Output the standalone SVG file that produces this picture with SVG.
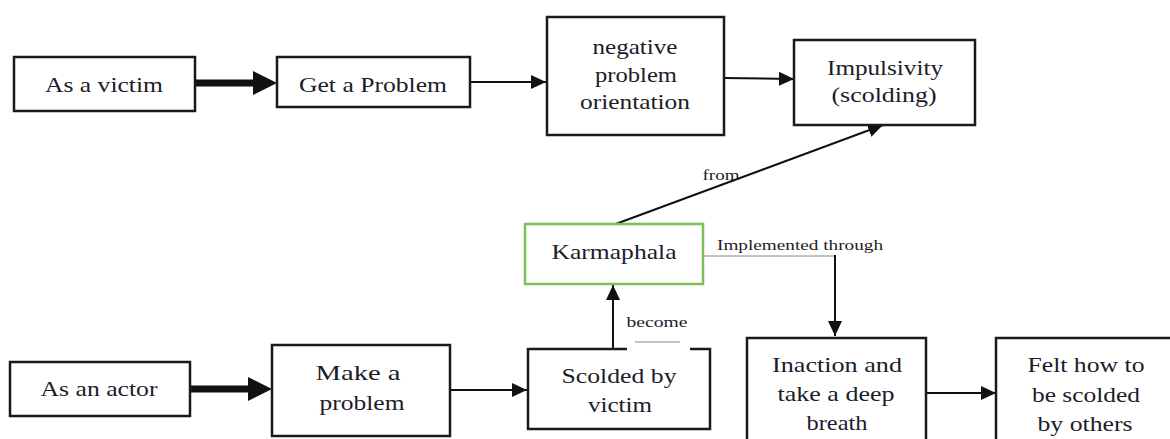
<svg xmlns="http://www.w3.org/2000/svg" width="1170" height="439" viewBox="0 0 1170 439" font-family="Liberation Serif, DejaVu Serif, serif">
<style>
.box{fill:#fff;stroke:#1a1a1a;stroke-width:2.5}
.kbox{fill:#fff;stroke:#7cbf55;stroke-width:2.5}
.t{font-size:22px;fill:#1c1c2a;text-anchor:middle}
.s{font-size:15px;fill:#1c1c2a;text-anchor:middle}
.thick{stroke:#111;stroke-width:7;fill:none}
.thin{stroke:#111;stroke-width:2;fill:none}
.gray{stroke:#c4c4c4;stroke-width:2;fill:none}
</style>
<defs>
<marker id="hThick" markerUnits="userSpaceOnUse" markerWidth="24" markerHeight="24" refX="0" refY="12" orient="auto">
<path d="M0,0 L24,12 L0,24 z" fill="#111"/>
</marker>
<marker id="hThin" markerUnits="userSpaceOnUse" markerWidth="15" markerHeight="14" refX="15" refY="7" orient="auto">
<path d="M0,0 L15,7 L0,14 z" fill="#111"/>
</marker>
</defs>
<rect width="1170" height="439" fill="#fff"/>
<g id="connectors">
<line class="thick" x1="195" y1="83" x2="253" y2="83" marker-end="url(#hThick)"/>
<line class="thin" x1="470" y1="82" x2="546" y2="82" marker-end="url(#hThin)"/>
<line class="thin" x1="724" y1="78" x2="794" y2="79" marker-end="url(#hThin)"/>
<line class="thin" x1="613" y1="225" x2="883" y2="125" marker-end="url(#hThin)"/>
<line class="gray" x1="704" y1="256" x2="835" y2="256"/>
<line class="thin" x1="835" y1="255" x2="835" y2="336" marker-end="url(#hThin)"/>
<line class="thin" x1="613" y1="349" x2="613" y2="285" marker-end="url(#hThin)"/>
<line class="thick" x1="190" y1="389" x2="248" y2="389" marker-end="url(#hThick)"/>
<line class="thin" x1="450" y1="390" x2="527" y2="390" marker-end="url(#hThin)"/>
<line class="thin" x1="926" y1="393" x2="996" y2="393" marker-end="url(#hThin)"/>
<line class="gray" x1="635" y1="342" x2="680" y2="342"/>
<text class="s" x="721" y="180" textLength="37" lengthAdjust="spacingAndGlyphs">from</text>
<text class="s" x="800" y="250" textLength="166" lengthAdjust="spacingAndGlyphs">Implemented through</text>
<text class="s" x="657" y="327" textLength="61" lengthAdjust="spacingAndGlyphs">become</text>
</g>
<g id="victim">
<rect class="box" x="14" y="57" width="181" height="54"/>
<text class="t" x="104" y="92" textLength="118" lengthAdjust="spacingAndGlyphs">As a victim</text>
</g>
<g id="get-problem">
<rect class="box" x="277" y="57" width="193" height="50"/>
<text class="t" x="373" y="92" textLength="148" lengthAdjust="spacingAndGlyphs">Get a Problem</text>
</g>
<g id="negative">
<rect class="box" x="547" y="17" width="177" height="118"/>
<text class="t" x="635" y="54" textLength="85" lengthAdjust="spacingAndGlyphs">negative</text>
<text class="t" x="636" y="82" textLength="82" lengthAdjust="spacingAndGlyphs">problem</text>
<text class="t" x="635" y="109" textLength="110" lengthAdjust="spacingAndGlyphs">orientation</text>
</g>
<g id="impulsivity">
<rect class="box" x="794" y="40" width="181" height="85"/>
<text class="t" x="885" y="75" textLength="116" lengthAdjust="spacingAndGlyphs">Impulsivity</text>
<text class="t" x="884" y="102" textLength="105" lengthAdjust="spacingAndGlyphs">(scolding)</text>
</g>
<g id="karmaphala">
<rect class="kbox" x="525" y="224" width="178" height="60"/>
<text class="t" x="614" y="259" textLength="125" lengthAdjust="spacingAndGlyphs">Karmaphala</text>
</g>
<g id="actor">
<rect class="box" x="10" y="362" width="180" height="54"/>
<text class="t" x="99" y="396" textLength="117" lengthAdjust="spacingAndGlyphs">As an actor</text>
</g>
<g id="make-problem">
<rect class="box" x="272" y="345" width="178" height="91"/>
<text class="t" x="358" y="380" textLength="85" lengthAdjust="spacingAndGlyphs">Make a</text>
<text class="t" x="362" y="410" textLength="85" lengthAdjust="spacingAndGlyphs">problem</text>
</g>
<g id="scolded">
<path class="box" d="M627,349 L528,349 L528,429 L710,429 L710,349 L690,349"/>
<text class="t" x="619" y="383" textLength="115" lengthAdjust="spacingAndGlyphs">Scolded by</text>
<text class="t" x="620" y="412" textLength="64" lengthAdjust="spacingAndGlyphs">victim</text>
</g>
<g id="inaction">
<rect class="box" x="747" y="338" width="179" height="110"/>
<text class="t" x="837" y="372" textLength="130" lengthAdjust="spacingAndGlyphs">Inaction and</text>
<text class="t" x="836" y="401" textLength="117" lengthAdjust="spacingAndGlyphs">take a deep</text>
<text class="t" x="837" y="430" textLength="61" lengthAdjust="spacingAndGlyphs">breath</text>
</g>
<g id="felt">
<rect class="box" x="996" y="338" width="180" height="110"/>
<text class="t" x="1086" y="372" textLength="117" lengthAdjust="spacingAndGlyphs">Felt how to</text>
<text class="t" x="1086" y="402" textLength="108" lengthAdjust="spacingAndGlyphs">be scolded</text>
<text class="t" x="1085" y="431" textLength="95" lengthAdjust="spacingAndGlyphs">by others</text>
</g>
</svg>
